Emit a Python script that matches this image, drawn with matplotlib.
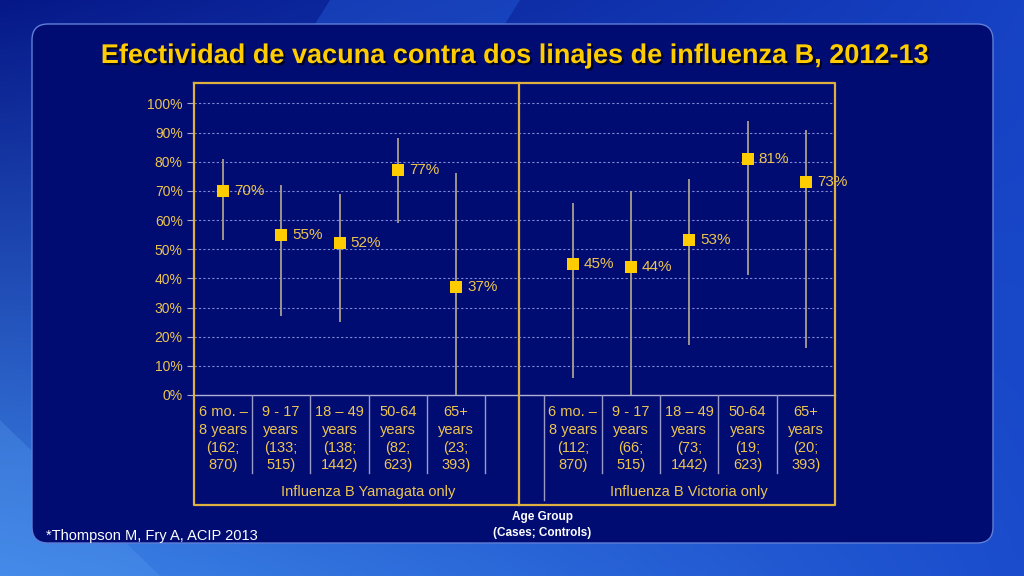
import numpy as np
import matplotlib
matplotlib.use("Agg")
import matplotlib.pyplot as plt
from matplotlib.patches import FancyBboxPatch, Polygon
import matplotlib.patheffects as pe

# ---------------- data ----------------
title = "Efectividad de vacuna contra dos linajes de influenza B, 2012-13"
groups = ["Influenza B Yamagata only", "Influenza B Victoria only"]

yam_labels = [["6 mo. –", "8 years", "(162;", "870)"],
              ["9 - 17", "years", "(133;", "515)"],
              ["18 – 49", "years", "(138;", "1442)"],
              ["50-64", "years", "(82;", "623)"],
              ["65+", "years", "(23;", "393)"]]
yam_ve = [70, 55, 52, 77, 37]
yam_lo = [53, 27, 25, 59, 0]
yam_hi = [81, 72, 69, 88, 76]

vic_labels = [["6 mo. –", "8 years", "(112;", "870)"],
              ["9 - 17", "years", "(66;", "515)"],
              ["18 – 49", "years", "(73;", "1442)"],
              ["50-64", "years", "(19;", "623)"],
              ["65+", "years", "(20;", "393)"]]
vic_ve = [45, 44, 53, 81, 73]
vic_lo = [6, 0, 17, 41, 16]
vic_hi = [66, 70, 74, 94, 91]

yticks = [0, 10, 20, 30, 40, 50, 60, 70, 80, 90, 100]
footnote = "*Thompson M, Fry A, ACIP 2013"
xlabel_lines = ["Age Group", "(Cases; Controls)"]

# ---------------- style ----------------
FONT = "Liberation Sans"
GOLD = "#FFCC00"
TXT = "#EDC450"
BORDER = "#DDB040"
GRID = "#8088d8"
BAR = "#a89f8e"
PANEL = "#000c72"

W, H = 1024, 576
fig = plt.figure(figsize=(W / 100, H / 100), dpi=100)

# background gradient
bg = fig.add_axes([0, 0, 1, 1])
bg.set_axis_off()
tl = np.array([0x06, 0x18, 0x88]) / 255
tr = np.array([0x16, 0x42, 0xc4]) / 255
bl = np.array([0x3c, 0x84, 0xe6]) / 255
br = np.array([0x1a, 0x4c, 0xcc]) / 255
u = np.linspace(0, 1, 256)[None, :, None]
v = np.linspace(0, 1, 144)[:, None, None]
img = (1 - v) * ((1 - u) * tl + u * tr) + v * ((1 - u) * bl + u * br)
bg.imshow(img, extent=[0, W, H, 0], aspect="auto", interpolation="bilinear")
bg.add_patch(Polygon([[330, 0], [520, 0], [420, 160], [230, 160]],
                     closed=True, facecolor="#2a6ae8", alpha=0.35, edgecolor="none"))
bg.add_patch(Polygon([[0, 420], [0, 576], [160, 576]],
                     closed=True, facecolor="#5a9cf0", alpha=0.3, edgecolor="none"))
bg.add_patch(FancyBboxPatch((32, 24), 961, 519,
                            boxstyle="round,pad=0,rounding_size=16",
                            facecolor=PANEL, edgecolor="#5f7ed8", linewidth=1.0))
bg.set_xlim(0, W)
bg.set_ylim(H, 0)

# title
bg.text(515, 56, title, fontsize=19.5, fontweight="bold", color=GOLD,
        family=FONT, ha="center", va="center",
        path_effects=[pe.withSimplePatchShadow(offset=(1.5, -1.5),
                                               shadow_rgbFace="#000000", alpha=0.7)])

# footnote
bg.text(46, 536, footnote, fontsize=10.5, color="white", family=FONT,
        ha="left", va="center")
bg.text(542, 517, xlabel_lines[0], fontsize=8.5, fontweight="bold", color="white",
        family=FONT, ha="center", va="center")
bg.text(542, 533, xlabel_lines[1], fontsize=8.5, fontweight="bold", color="white",
        family=FONT, ha="center", va="center")

# ---------------- main axes ----------------
x0, x1 = 193.8, 835.0
ytop, ybot = 83, 395
ax = fig.add_axes([x0 / W, 1 - ybot / H, (x1 - x0) / W, (ybot - ytop) / H])
ax.set_facecolor("none")
ax.set_xlim(-0.5, 10.5)
ax.set_ylim(0, 107)

yam_x = np.arange(5)
vic_x = np.arange(6, 11)

for i in yticks[1:]:
    ax.axhline(i, color=GRID, linewidth=0.8, linestyle=(0, (2, 2)), zorder=1)

for xs, ve, lo, hi in [(yam_x, yam_ve, yam_lo, yam_hi), (vic_x, vic_ve, vic_lo, vic_hi)]:
    ax.vlines(xs, lo, hi, color=BAR, linewidth=1.3, zorder=2)
    ax.plot(xs, ve, linestyle="none", marker="s", markersize=8,
            color=GOLD, markeredgewidth=0, zorder=3)
    for xi, val in zip(xs, ve):
        ax.annotate(f"{val}%", (xi, val), xytext=(8, 0), textcoords="offset points",
                    ha="left", va="center", fontsize=11, color=TXT, family=FONT,
                    annotation_clip=False, zorder=4)

ax.set_yticks(yticks)
ax.set_yticklabels([f"{t}%" for t in yticks], family=FONT, fontsize=10, color=TXT)
ax.tick_params(axis="y", length=5, width=0.8, color="#a8a8d0", pad=3)
ax.set_xticks([])
for s in ["top", "left", "right"]:
    ax.spines[s].set_visible(False)
ax.spines["bottom"].set_color("#b0b0d8")
ax.spines["bottom"].set_linewidth(1.0)

# ---------------- table axes ----------------
tb = fig.add_axes([x0 / W, 1 - 505 / H, (x1 - x0) / W, 110 / H])
tb.set_facecolor("none")
tb.set_axis_off()
tb.set_xlim(-0.5, 10.5)
tb.set_ylim(110, 0)

for b in [0.5, 1.5, 2.5, 3.5, 4.5, 6.5, 7.5, 8.5, 9.5]:
    tb.plot([b, b], [0, 78], color="#9a9ac8", linewidth=1.0)
tb.plot([5.5, 5.5], [0, 105], color="#9a9ac8", linewidth=1.0)

rows_y = [17, 35, 53, 70]
for xs, labs in [(yam_x, yam_labels), (vic_x, vic_labels)]:
    for xi, lines in zip(xs, labs):
        for yy, line in zip(rows_y, lines):
            tb.text(xi, yy, line, ha="center", va="center", fontsize=10.5,
                    color=TXT, family=FONT)
tb.text(2.5, 97, groups[0], ha="center", va="center", fontsize=10.5, color=TXT, family=FONT)
tb.text(8.0, 97, groups[1], ha="center", va="center", fontsize=10.5, color=TXT, family=FONT)

# yellow frame
frame = fig.add_axes([0, 0, 1, 1])
frame.set_axis_off()
frame.set_facecolor("none")
frame.set_xlim(0, W)
frame.set_ylim(H, 0)
frame.plot([x0, x1, x1, x0, x0], [ytop, ytop, 505, 505, ytop], color=BORDER, linewidth=1.6)
frame.plot([518.5, 518.5], [ytop, 505], color=BORDER, linewidth=1.6)

fig.savefig("out.png", dpi=100)
